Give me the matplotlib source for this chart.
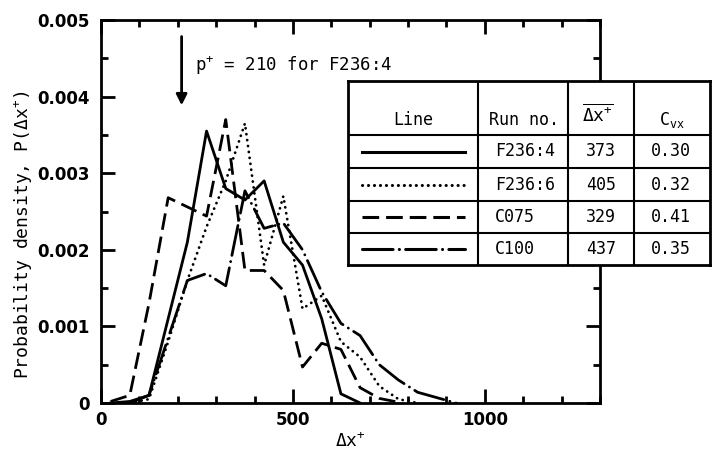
import matplotlib
matplotlib.use('Agg')
import matplotlib.pyplot as plt
from matplotlib.ticker import MultipleLocator, FuncFormatter

# data (bin centres, probability density)
x_f2364 = [25, 75, 125, 175, 225, 275, 325, 375, 425, 475, 525, 575, 625, 675]
p_f2364 = [0, 0.00002, 0.0001, 0.0011, 0.0021, 0.00355, 0.0028, 0.00265, 0.0029,
           0.0021, 0.0018, 0.0011, 0.00012, 0]

x_f2366 = [75, 125, 175, 225, 275, 325, 375, 425, 475, 525, 575, 625, 675, 725, 775, 825]
p_f2366 = [0, 0.00005, 0.0008, 0.0016, 0.0023, 0.0029, 0.00365, 0.0018, 0.0027,
           0.00123, 0.0014, 0.0008, 0.0006, 0.00022, 0.00005, 0]

x_c075 = [25, 75, 125, 175, 225, 275, 325, 375, 425, 475, 525, 575, 625, 675, 725, 775]
p_c075 = [0.00002, 0.0001, 0.0013, 0.00268, 0.00256, 0.00244, 0.0037, 0.00173, 0.00173,
          0.00147, 0.00047, 0.00078, 0.0007, 0.0002, 0.00006, 0.00001]

x_c100 = [75, 125, 175, 225, 275, 325, 375, 425, 475, 525, 575, 625, 675, 725, 775, 825, 875, 925]
p_c100 = [0, 0.0001, 0.00085, 0.0016, 0.00169, 0.00153, 0.00277, 0.00228, 0.00235,
          0.002, 0.00145, 0.00104, 0.00088, 0.0005, 0.0003, 0.00014, 0.00007, 0]

runs = ['F236:4', 'F236:6', 'C075', 'C100']
means = ['373', '405', '329', '437']
cvs = ['0.30', '0.32', '0.41', '0.35']
p_plus = 210

plt.rcParams['lines.scale_dashes'] = False
plt.rcParams['mathtext.fontset'] = 'custom'
plt.rcParams['mathtext.rm'] = 'DejaVu Sans Mono'
plt.rcParams['mathtext.it'] = 'DejaVu Sans Mono'
mono = 'DejaVu Sans Mono'

styles = [
    dict(linestyle='-'),
    dict(linestyle=(0, (0.1, 4.2)), dash_capstyle='round'),
    dict(linestyle=(0, (12, 5))),
    dict(linestyle=(0, (22, 4.5, 0.1, 4.5)), dash_capstyle='round'),
]
lw = 2.0

fig = plt.figure(figsize=(7.13, 4.59), dpi=100)
W, H = 713, 459
ax = fig.add_axes([101 / W, 1 - 403 / H, (600 - 101) / W, (403 - 20) / H])

series = [(x_f2364, p_f2364), (x_f2366, p_f2366), (x_c075, p_c075), (x_c100, p_c100)]
for (xs, ps), st in zip(series, styles):
    ax.plot(xs, ps, color='black', lw=lw, **st)

ax.set_xlim(0, 1300)
ax.set_ylim(0, 0.005)
ax.xaxis.set_major_locator(MultipleLocator(500))
ax.xaxis.set_minor_locator(MultipleLocator(100))
ax.yaxis.set_major_locator(MultipleLocator(0.001))
ax.yaxis.set_minor_locator(MultipleLocator(0.0005))
ax.xaxis.set_major_formatter(FuncFormatter(lambda v, p: '%d' % round(v)))
ax.yaxis.set_major_formatter(FuncFormatter(lambda v, p: '0' if abs(v) < 1e-9 else '%.3f' % v))
ax.tick_params(which='both', direction='in', top=True, right=True, width=2)
ax.tick_params(which='major', length=10)
ax.tick_params(which='minor', length=5)
ax.tick_params(axis='y', pad=8)
ax.tick_params(axis='x', pad=6)
for lab in ax.get_xticklabels() + ax.get_yticklabels():
    lab.set_fontweight('bold')
    lab.set_fontsize(12)
for s in ax.spines.values():
    s.set_linewidth(2)

ax.set_xlabel(r'$\mathrm{\Delta x^{+}}$', fontsize=13, family=mono, labelpad=2)
ax.set_ylabel(r'Probability density, P($\mathrm{\Delta x^{+}}$)', fontsize=13, family=mono)
ax.yaxis.set_label_coords(-0.135, 0.44)

ax.annotate('', xy=(p_plus, 0.00385), xytext=(p_plus, 0.00482),
            arrowprops=dict(arrowstyle='-|>', lw=2, color='black', mutation_scale=16))
ax.text(245, 0.00441, r'p$^{+}$ = 210 for F236:4', fontsize=12.5, family=mono,
        ha='left', va='center')

# table with line samples
L, R, T, B = 348, 710, 81, 265
tab = fig.add_axes([L / W, 1 - B / H, (R - L) / W, (B - T) / H])
tab.set_xlim(L, R)
tab.set_ylim(B, T)
tab.set_xticks([])
tab.set_yticks([])
tab.set_facecolor('white')
for s in tab.spines.values():
    s.set_linewidth(2)
cols = [348, 478, 568, 634, 710]
rows = [81, 135, 168, 201, 233, 265]
for c in cols[1:-1]:
    tab.plot([c, c], [T, B], color='black', lw=1.5)
for r in rows[1:-1]:
    tab.plot([L, R], [r, r], color='black', lw=1.5)

hy = 120
tab.text(413, hy, 'Line', fontsize=12, family=mono, ha='center', va='center')
tab.text(524, hy, 'Run no.', fontsize=12, family=mono, ha='center', va='center')
tab.text(598, hy - 6, r'$\overline{\mathrm{\Delta x^{+}}}$', fontsize=13, ha='center', va='center')
tab.text(672, hy, r'C$_{\mathrm{vx}}$', fontsize=12, family=mono, ha='center', va='center')

for i, st in enumerate(styles):
    yc = (rows[i + 1] + rows[i + 2]) / 2
    tab.plot([362, 465], [yc, yc], color='black', lw=2.2, **st)
    tab.text(495, yc, runs[i], fontsize=12, family=mono, ha='left', va='center')
    tab.text(601, yc, means[i], fontsize=12, family=mono, ha='center', va='center')
    tab.text(671, yc, cvs[i], fontsize=12, family=mono, ha='center', va='center')

fig.savefig('out.png', dpi=100)
